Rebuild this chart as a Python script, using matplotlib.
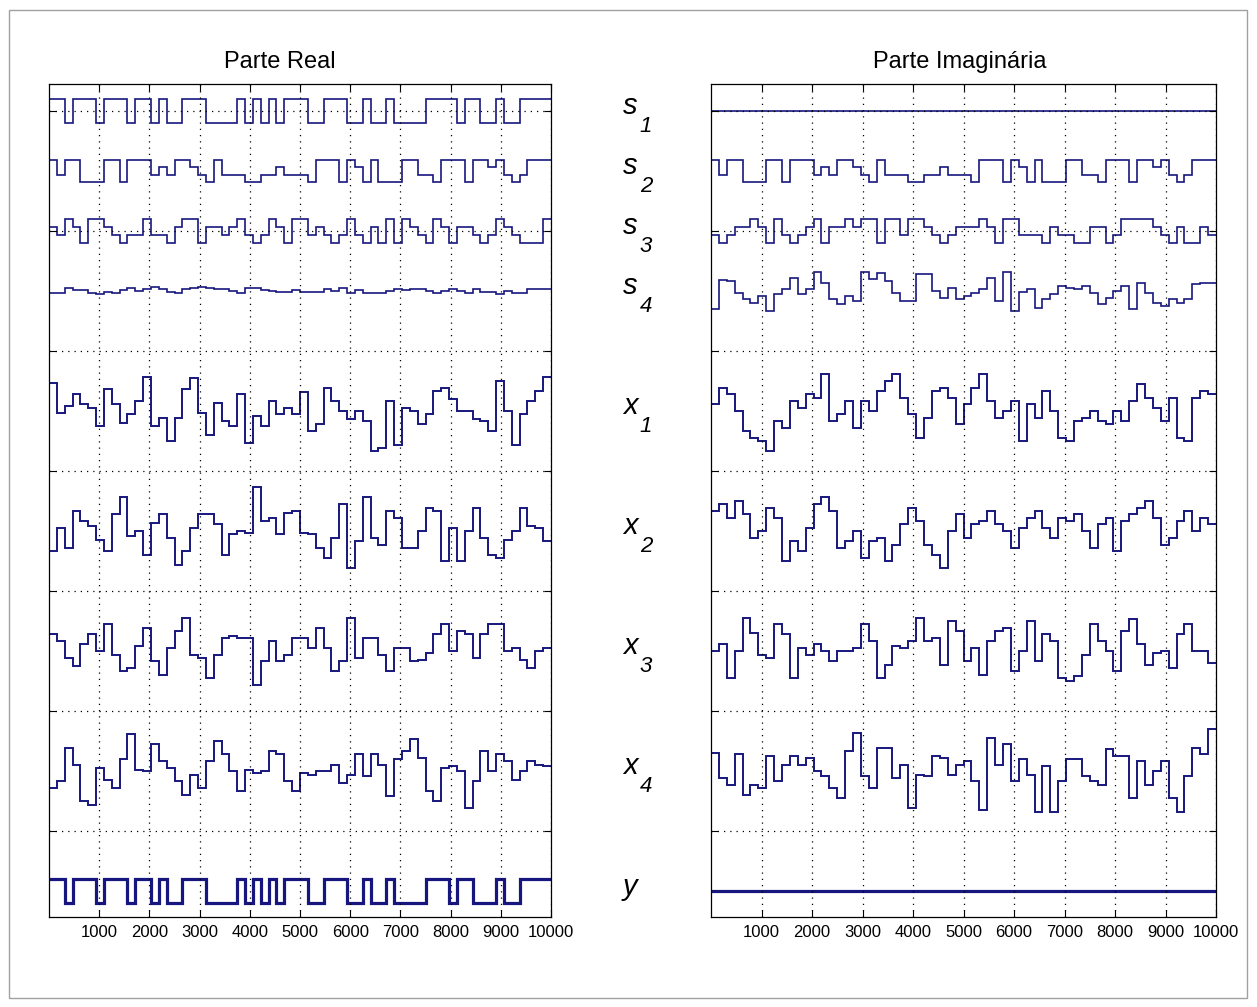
import numpy as np
import matplotlib
matplotlib.use("Agg")
import matplotlib.pyplot as plt
from matplotlib.patches import Rectangle
from matplotlib.transforms import blended_transform_factory

plt.rcParams['font.family'] = ['Liberation Sans', 'DejaVu Sans']

# x range of every trace (samples) and number of symbols per trace
n_samples = 10000
xticks = list(range(1000, 10001, 1000))

# sources, symbol levels (64 symbols each)
s1_real = [1, 1, -1, 1, 1, 1, -1, 1, 1, 1, -1, 1, 1, -1, 1, -1, -1, 1, 1, 1,
           -1, -1, -1, -1, 1, -1, 1, -1, 1, -1, 1, 1, 1, -1, -1, 1, 1, 1, -1, -1,
           1, -1, -1, 1, -1, -1, -1, -1, 1, 1, 1, 1, -1, 1, 1, -1, -1, 1, -1, -1,
           1, 1, 1, 1]
s1_imag = [0] * 64
s2_real = [3, -1, 3, 3, -3, -3, -3, 3, 3, -3, 3, 3, 3, -1, 1, -1, 3, 3, 1, -1,
           -3, 3, -1, -1, -1, -3, -3, -1, -1, 1, -1, -1, -1, -3, 3, 3, 3, -3, 3, 1,
           -3, 3, -3, -3, -3, 3, 3, -1, -1, -3, 3, 3, 3, -3, 3, 3, 1, 3, -1, -3,
           -1, 3, 3, 3]
s2_imag = list(s2_real)
s3_real = [1, -1, 3, 1, -3, 3, 3, 1, -1, -3, -1, -1, 3, -1, -1, -3, 1, 3, 3, -3,
           1, 1, -1, 1, 3, -1, -3, -1, 3, 1, -3, 3, 3, -1, 1, -1, -3, -1, 3, -1,
           -3, 1, -3, 3, -3, 3, 1, -1, -3, 3, 1, -3, 1, 1, -1, -3, -1, 3, 1, -1,
           -3, -3, -3, 3]
s3_imag = [-1, -3, -1, 1, 1, 3, 1, -3, 3, -1, -3, -1, 1, 3, -3, 1, 1, 3, 1, 3,
           3, -3, 3, 3, -1, 3, 3, 1, -1, -3, -1, 1, 1, 1, 3, 1, -3, 3, 3, -1,
           -1, -1, -3, 1, -1, -1, -3, -3, 1, 1, -3, -1, 3, 3, 3, 3, 1, -1, -3, 1,
           -3, -3, 1, -1]
s4_real = [-0.5, -0.5, 0.8, 0.2, 0.2, -0.5, -1, -0.3, -0.7, 0.2, 0.8, 0, 0.5, 1.3, 0.5, -0.3,
           -0.5, 0.5, 1, 1.3, 1, 0.5, 0.5, 0, -0.7, 0.8, 0.8, 0.2, 0, -0.2, -0.2, 0.2,
           -0.2, -0.2, -0.2, 0.7, 0, 1, -0.7, 0.2, -0.5, -0.5, -0.5, 0, 0.5, 0.2, 0.5, 0.5,
           0, -0.5, 0, 0.5, 0, -0.7, 0.5, -0.2, -0.2, -0.8, 0, -0.7, -0.7, 0.5, 0.5, 0.5]
s4_imag = [-5.5, 3.3, 3, -0.5, -2.5, -3.5, -1.5, -6, -1, 0.5, 4, -1, 0.5, 5.5, 2.5, -2.5,
           -4, -1.5, -3, 5.5, 3.5, 5.3, 3, -0.5, -3, -3, 5, 5, 0, -2, 1, -2.5,
           -1.5, -0.5, 0.5, 4, -3, 5.7, -6, -0.3, 0.7, -5, -2.5, -1, 1.5, 1, 0.5, 1.5,
           -0.5, -4, -2, 0, 1.5, -5.5, 2.5, -0.5, -3.5, -4.5, -2.5, -3.5, -2.5, 2, 2.5, 2.5]

# mixtures
x1_real = [8.2, -0.5, 1.5, 5, 2, 1, -4.5, 6.5, 2, -3.5, -1, 3, 10, -4.5, -2, -9,
           -2, 6.5, 9.8, -0.5, -7, 2.5, -3, -4.5, 5, -9.5, -1.5, -4.5, 3, -1, 1, -1,
           5.8, -6, -4, 7, 3, 0, -2.5, 0, -3, -12, -11, 3, -10, 1, 0, -4,
           -1, 6, 7, 3.5, 0, 0, -2.5, -3, -6, 9, 0, -10, -1, 3, 6, 10]
x1_imag = [2, 7, 5, 0, -6, -8, -9, -12, -3, -5, 3, 1, 5, 4, 11, -3,
           -1, 3, -5, 3, 0, 6, 9, 11, 4, -1, -8, -2, 6, 7, 4, -4,
           2, 7, 11, 3, -2, 0, 3, -9, 2, -2, 6, 0, -8, -9, -3, -2,
           0, -3, -4, 0, -3, 3, 8, 4, 1, -3, 4, -8, -9, 4, 6, 5]
x2_real = [-6, 1, -5, 6, 3, 1.5, -2.5, -6, 5, 10, -1.5, 0, -7, 2.5, 5, -2,
           -10, -6, 1, 5, 5, 2, -7, -1, 0, -0.5, 13, 3, 4, -1, 5.5, 6,
           -0.5, -1, -5, -8, -2, 8, -11, -3, 10, -2, -4, 6, 4, -5, -5, 0,
           7, 6, -9, 1, -9, 0, 7, -2, -7, -8, -2.5, 0, 7, 1.5, 1, -3]
x2_imag = [6, 8, 4, 9, 5, -2, 0, 7, 4, -9, -3, -6, 1, 8, 10, 6,
           -5, -3, 0, -8, -3, -2, -9, -4, 2, 7, 3, -4, -7, -11, 0, 5,
           -2, 2, 3, 6, 2, 0, -5, 1, 4, 6, 1, -2, 4, 3, 5, 0,
           -5, 2, 4, -6, 3, 5, 7, 9, 4, -4, -2, 3, 6, 0, 4, 2]
x3_real = [5, 3, -2, -4.5, 2, 5, 0, 8, -1, -6, -5, 1.5, 7, -3, -7, 1,
           6, 10, -1, -2, -8, -1, 4, 4.5, 4, 4, -10, -3, 3, -3, -1, 4,
           4, 1, 7, 1, -6, -3, 10, -2, 4, 4, -1, -6, 1, 1, -3, -2.5,
           -0.5, 5, 8, 0, 6, 5, -2, 5, 8, 8, 0, 1, -2.5, -5, 0, 1]
x3_imag = [0, 2, -8, 0, 10, 5.5, -1, -2, 8, 5, -8, 1, -1, 2, 0, -3,
           0, 0, 1, 8, 3, -8, -4, 1.5, 1, 3, 10, 3, 4, -4, 9, 6,
           -3, 1, -7, 3, 6, 7, -6, 0, 9, -3, 5, 3, -8, -9, -7.5, -1,
           8, 3, 0, -6, 6, 9.5, 2, -4, -0.5, 0, -5, 5, 8, 0, 0, -3.5]
x4_real = [-5, -3, 7, 2, -9, -10, 1, -2.5, -5, 3.5, 11, 0.5, 0, 8, 3, 1,
           -3, -7, -1, -5, 3, 9, 5, 0, -6, 0.5, -0.5, 0, 6, 5, -3, -6,
           -0.5, -1, 0, 0, 2, -3.5, -1, 5, -1.5, 5, 2, -7.5, 3.5, 6, 9.5, 4,
           -6, -9, 1, 1.5, 0, -11, -3, 6, 0, 5, 3, -2.5, 0, 3, 2, 1.5]
x4_imag = [5.5, -2, -4, 5, -7, -4, -5, 4.5, -3, 2, 4.5, 2, 4, 0, -1.5, -5,
           -8, 6, 11.5, -1.5, -5, 7, 7, -2, 2, -11, -1, -1.5, 4.5, 4, -1, 2,
           3, -3, -11.5, 10, 2, 8, -3, 3.5, -1, -12, 1.5, -12, -3, 3.5, 3.5, -1.5,
           -3, -4, 6.5, 4.5, 4.5, -8, 3, -4, 0, 3, -8, -12, -1.5, 7, 5, 12.5]

# separated output
y_real = [1, 1, -1, 1, 1, 1, -1, 1, 1, 1, -1, 1, 1, -1, 1, -1, -1, 1, 1, 1,
          -1, -1, -1, -1, 1, -1, 1, -1, 1, -1, 1, 1, 1, -1, -1, 1, 1, 1, -1, -1,
          1, -1, -1, 1, -1, -1, -1, -1, 1, 1, 1, -1, 1, 1, -1, -1, -1, 1, -1, -1,
          1, 1, 1, 1]
y_imag = [0] * 64

labels = [('s', '1'), ('s', '2'), ('s', '3'), ('s', '4'),
          ('x', '1'), ('x', '2'), ('x', '3'), ('x', '4'), ('y', '')]
real_parts = [s1_real, s2_real, s3_real, s4_real, x1_real, x2_real, x3_real, x4_real, y_real]
imag_parts = [s1_imag, s2_imag, s3_imag, s4_imag, x1_imag, x2_imag, x3_imag, x4_imag, y_imag]

# vertical offset and amplitude scale of each trace
offsets = [6, 5.5, 5, 4.5, 3.5, 2.5, 1.5, 0.5, -0.5]
scales = [0.097, 0.031, 0.0345, 0.028, 0.028, 0.028, 0.028, 0.028, 0.1]
widths = [1.2, 1.2, 1.2, 1.2, 1.4, 1.4, 1.4, 1.4, 2.3]
line_color = '#16167e'

W, H = 1257, 1007
fig = plt.figure(figsize=(W / 100, H / 100), dpi=100)
fig.patches.append(Rectangle((9 / W, 9 / H), 1 - 19 / W, 1 - 19 / H, transform=fig.transFigure,
                             fill=False, edgecolor='#a0a0a0', linewidth=1))

ax_l = fig.add_axes([49 / W, 1 - 917 / H, 502 / W, 833 / H])
ax_r = fig.add_axes([711 / W, 1 - 917 / H, 505 / W, 833 / H])

for ax, parts in [(ax_l, real_parts), (ax_r, imag_parts)]:
    for vals, off, sc, lw in zip(parts, offsets, scales, widths):
        vals = np.asarray(vals, dtype=float)
        edges = np.linspace(0, n_samples, len(vals) + 1)
        ax.stairs(off + sc * vals, edges, baseline=None, color=line_color, linewidth=lw)
    ax.set_xlim(0, n_samples)
    ax.set_ylim(-0.714, 6.224)
    ax.set_xticks(xticks)
    ax.set_xticklabels([str(t) for t in xticks], fontsize=12)
    ax.set_yticks(range(0, 7))
    ax.set_yticklabels([])
    ax.tick_params(direction='in', top=True, right=True, length=5, width=0.8, pad=6)
    ax.grid(True, color='black', linestyle=(0, (1, 4)), linewidth=0.9)
    for sp in ax.spines.values():
        sp.set_linewidth(0.9)

fig.text(280 / W, 1 - 62 / H, 'Parte Real', ha='center', va='center', fontsize=17)
fig.text(960 / W, 1 - 62 / H, 'Parte Imaginária', ha='center', va='center', fontsize=17)

tr = blended_transform_factory(fig.transFigure, ax_l.transData)
for (letter, idx), off in zip(labels, offsets):
    fig.text(630 / W, off + 0.04, letter, transform=tr, ha='center', va='center',
             fontsize=21, style='italic')
    if idx:
        fig.text(646 / W, off - 0.13, idx, transform=tr, ha='center', va='center',
                 fontsize=16, style='italic')

fig.savefig('out.png', dpi=100)
